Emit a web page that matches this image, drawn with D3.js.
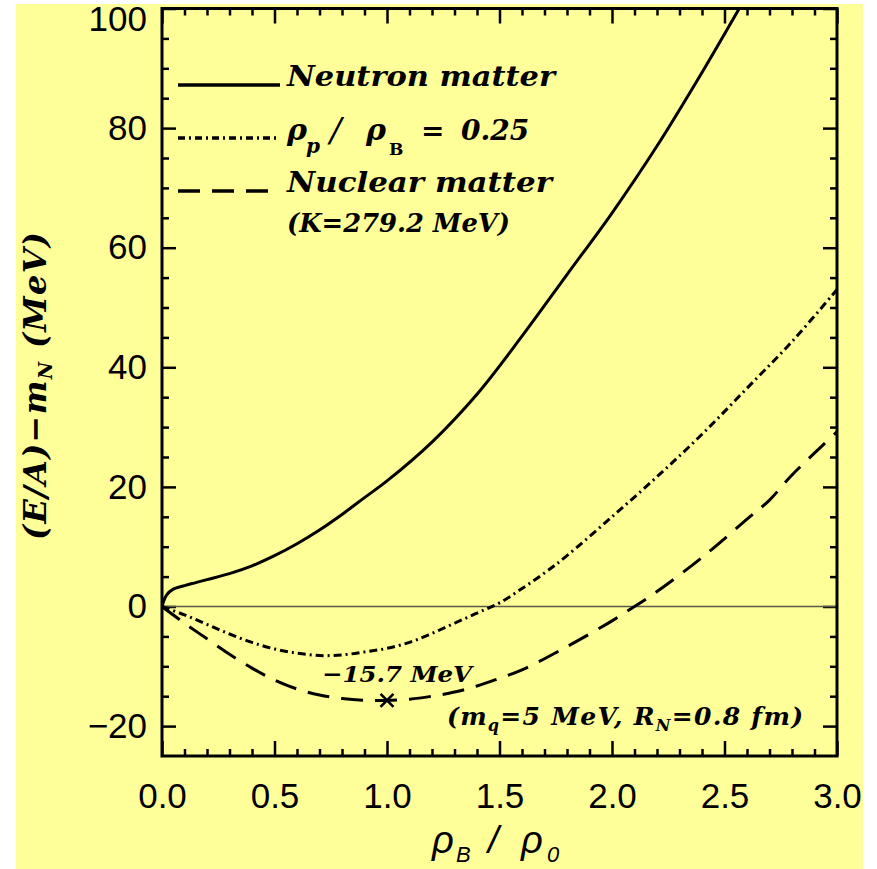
<!DOCTYPE html>
<html><head><meta charset="utf-8">
<script src="https://cdn.jsdelivr.net/npm/d3@7"></script>
<style>body{margin:0;background:#fff}</style>
</head><body>
<svg id="chart" width="877" height="869" xmlns="http://www.w3.org/2000/svg"></svg>
<script>
// ---- data ----
const xMajorTicks = [0, 0.5, 1, 1.5, 2, 2.5, 3];
const xTickLabels = ["0.0", "0.5", "1.0", "1.5", "2.0", "2.5", "3.0"];
const yMajorTicks = [-20, 0, 20, 40, 60, 80, 100];
const yTickLabels = ["\u221220", "0", "20", "40", "60", "80", "100"];

const neutronX = [0, 0.02, 0.05, 0.1, 0.15, 0.2, 0.3, 0.4, 0.5, 0.6, 0.7, 0.8, 0.9, 1.0, 1.2, 1.4, 1.6, 1.8, 2.0, 2.2, 2.4, 2.57];
const neutronY = [0, 1.9, 2.9, 3.5, 4.0, 4.5, 5.5, 6.8, 8.5, 10.5, 12.8, 15.4, 18.2, 21.0, 27.5, 35.5, 45.2, 55.5, 65.8, 77.0, 89.3, 100.3];

const asymX = [0, 0.1, 0.2, 0.3, 0.4, 0.5, 0.6, 0.7, 0.8, 0.9, 1.0, 1.1, 1.2, 1.3, 1.4, 1.5, 1.6, 1.7, 1.8, 2.0, 2.2, 2.4, 2.6, 2.8, 3.0];
const asymY = [0, -1.4, -3.0, -4.6, -6.0, -7.1, -7.8, -8.2, -8.1, -7.6, -7.0, -6.0, -4.5, -2.8, -1.1, 0.6, 3.0, 5.6, 8.5, 15.0, 21.7, 28.8, 36.5, 44.3, 53.0];

const nuclearX = [0, 0.1, 0.2, 0.3, 0.4, 0.5, 0.6, 0.7, 0.8, 0.9, 1.0, 1.1, 1.2, 1.3, 1.4, 1.5, 1.6, 1.8, 2.0, 2.1, 2.2, 2.4, 2.6, 2.7, 2.8, 3.0];
const nuclearY = [0, -2.8, -5.4, -8.0, -10.3, -12.3, -13.8, -14.8, -15.4, -15.7, -15.7, -15.5, -15.0, -14.3, -13.3, -12.0, -10.6, -6.7, -2.4, 0.0, 2.5, 8.2, 14.6, 17.8, 22.0, 29.2];

const minimumPoint = [1.0, -15.7];

// ---- setup ----
const svg = d3.select("#chart");
svg.append("rect").attr("x", 16).attr("y", 4).attr("width", 847).attr("height", 865).attr("fill", "#ffff99");

const x = d3.scaleLinear().domain([0, 3]).range([162, 837]);
const y = d3.scaleLinear().domain([-25, 100]).range([756, 8.5]);

const xMinor = d3.range(0, 31).map(i => i / 10).filter(v => Math.round(v * 10) % 5 !== 0);
const yMinor = d3.range(-25, 101, 5).filter(v => v % 20 !== 0 && v !== -25 && v !== 100);

const tickFont = "'Liberation Sans', Arial, sans-serif";
const serif = "'DejaVu Serif', serif";

function styleAxis(g) {
  g.select(".domain").remove();
  g.selectAll(".tick line").attr("stroke", "#000").attr("stroke-width", 2.5);
  g.selectAll(".tick text").attr("fill", "#000").style("font-family", tickFont).style("font-size", "35px");
}

// bottom
svg.append("g").attr("transform", `translate(0,${y(-25)})`)
  .call(d3.axisBottom(x).tickValues(xMajorTicks).tickFormat((d, i) => xTickLabels[i]).tickSizeInner(-15).tickSizeOuter(0).tickPadding(27))
  .call(styleAxis);
svg.append("g").attr("transform", `translate(0,${y(-25)})`)
  .call(d3.axisBottom(x).tickValues(xMinor).tickFormat("").tickSizeInner(-7).tickSizeOuter(0))
  .call(styleAxis);
// top
svg.append("g").attr("transform", `translate(0,${y(100)})`)
  .call(d3.axisTop(x).tickValues(xMajorTicks).tickFormat("").tickSizeInner(-15).tickSizeOuter(0))
  .call(styleAxis);
svg.append("g").attr("transform", `translate(0,${y(100)})`)
  .call(d3.axisTop(x).tickValues(xMinor).tickFormat("").tickSizeInner(-7).tickSizeOuter(0))
  .call(styleAxis);
// left
const leftAxis = svg.append("g").attr("transform", `translate(${x(0)},0)`)
  .call(d3.axisLeft(y).tickValues(yMajorTicks).tickFormat((d, i) => yTickLabels[i]).tickSizeInner(-14).tickSizeOuter(0).tickPadding(15))
  .call(styleAxis);
leftAxis.selectAll(".tick text").filter(d => d === 100).attr("dy", "0.64em");
svg.append("g").attr("transform", `translate(${x(0)},0)`)
  .call(d3.axisLeft(y).tickValues(yMinor).tickFormat("").tickSizeInner(-7).tickSizeOuter(0))
  .call(styleAxis);
// right
svg.append("g").attr("transform", `translate(${x(3)},0)`)
  .call(d3.axisRight(y).tickValues(yMajorTicks).tickFormat("").tickSizeInner(-14).tickSizeOuter(0))
  .call(styleAxis);
svg.append("g").attr("transform", `translate(${x(3)},0)`)
  .call(d3.axisRight(y).tickValues(yMinor).tickFormat("").tickSizeInner(-7).tickSizeOuter(0))
  .call(styleAxis);

// zero line
svg.append("line").attr("x1", x(0)).attr("x2", x(3)).attr("y1", y(0)).attr("y2", y(0))
  .attr("stroke", "#5a5a4a").attr("stroke-width", 1.3);

// clip
svg.append("clipPath").attr("id", "plotclip").append("rect")
  .attr("x", x(0)).attr("y", y(100)).attr("width", x(3) - x(0)).attr("height", y(-25) - y(100));

const line = d3.line().x(d => x(d[0])).y(d => y(d[1])).curve(d3.curveCatmullRom.alpha(0.5));
const curves = [
  { xs: neutronX, ys: neutronY, dash: null },
  { xs: asymX, ys: asymY, dash: "8,4,2,4" },
  { xs: nuclearX, ys: nuclearY, dash: "22,12" }
];
const cg = svg.append("g").attr("clip-path", "url(#plotclip)");
curves.forEach(c => {
  cg.append("path").datum(c.xs.map((v, i) => [v, c.ys[i]]))
    .attr("d", line).attr("fill", "none").attr("stroke", "#000").attr("stroke-width", 3)
    .attr("stroke-dasharray", c.dash);
});

// frame
svg.append("rect").attr("x", x(0)).attr("y", y(100)).attr("width", x(3) - x(0)).attr("height", y(-25) - y(100))
  .attr("fill", "none").attr("stroke", "#000").attr("stroke-width", 3);

// minimum marker
const mx = x(minimumPoint[0]), my = y(minimumPoint[1]);
svg.append("path").attr("d", d3.symbol(d3.symbolX, 110)()).attr("transform", `translate(${mx},${my})`)
  .attr("stroke", "#000").attr("stroke-width", 2.6).attr("fill", "none");

// legend
const legendItems = [
  { y: 85, dash: null },
  { y: 138, dash: "7,4,2,4" },
  { y: 191, dash: "22,12" }
];
legendItems.forEach(l => {
  svg.append("line").attr("x1", 178).attr("x2", 280).attr("y1", l.y).attr("y2", l.y)
    .attr("stroke", "#000").attr("stroke-width", 3.5).attr("stroke-dasharray", l.dash);
});

function serifText(tx, ty, size) {
  return svg.append("text").attr("x", tx).attr("y", ty)
    .style("font-family", serif).style("font-style", "italic").style("font-weight", "bold")
    .style("font-size", size + "px").attr("fill", "#000");
}
serifText(287, 86, 28).text("Neutron matter").attr("textLength", 268).attr("lengthAdjust", "spacingAndGlyphs");
serifText(287, 192, 28).text("Nuclear matter").attr("textLength", 265).attr("lengthAdjust", "spacingAndGlyphs");
serifText(287, 232, 26).text("(K=279.2 MeV)").attr("textLength", 223).attr("lengthAdjust", "spacingAndGlyphs");

// rho_p / rho_B = 0.25
const t2 = serifText(287, 140, 30);
t2.append("tspan").text("\u03c1");
t2.append("tspan").attr("x", 306).attr("y", 153).style("font-size", "20px").text("p");
t2.append("tspan").attr("x", 330).attr("y", 142).style("font-size", "34px").style("font-weight", "normal").text("/");
t2.append("tspan").attr("x", 366).attr("y", 140).text("\u03c1");
t2.append("tspan").attr("x", 389).attr("y", 155).style("font-size", "17px").style("font-style", "normal").text("B");
t2.append("tspan").attr("x", 421).attr("y", 140).style("font-style", "normal").style("font-size", "28px").text("=");
t2.append("tspan").attr("x", 461).attr("y", 140).style("font-size", "28px").text("0.25");

// annotation
serifText(322, 682, 23).text("\u221215.7 MeV").attr("textLength", 150).attr("lengthAdjust", "spacingAndGlyphs");

const t3 = serifText(447, 725, 25);
t3.append("tspan").text("(m");
t3.append("tspan").attr("dy", 6).style("font-size", "16px").text("q");
t3.append("tspan").attr("dy", -6).text("=5 MeV, R");
t3.append("tspan").attr("dy", 6).style("font-size", "16px").text("N");
t3.append("tspan").attr("dy", -6).text("=0.8 fm)");
t3.attr("textLength", 356).attr("lengthAdjust", "spacing");

// y axis title
const yt = svg.append("text").attr("transform", "translate(46,386) rotate(-90)").attr("text-anchor", "middle")
  .style("font-family", serif).style("font-style", "italic").style("font-weight", "bold").style("font-size", "32px");
yt.append("tspan").text("(E/A)\u2212m");
yt.append("tspan").attr("dy", 6).style("font-size", "19px").text("N");
yt.append("tspan").attr("dy", -6).text(" (MeV)");
yt.attr("textLength", 308).attr("lengthAdjust", "spacing");

// x axis title
const xt = svg.append("text").attr("x", 432).attr("y", 853)
  .style("font-family", tickFont).style("font-style", "italic").style("font-size", "38px");
xt.append("tspan").text("\u03c1");
xt.append("tspan").attr("x", 456).attr("y", 862).style("font-size", "22px").text("B");
xt.append("tspan").attr("x", 488).attr("y", 853).text("/");
xt.append("tspan").attr("x", 521).attr("y", 853).text("\u03c1");
xt.append("tspan").attr("x", 547).attr("y", 862).style("font-size", "22px").text("0");
</script>
</body></html>
